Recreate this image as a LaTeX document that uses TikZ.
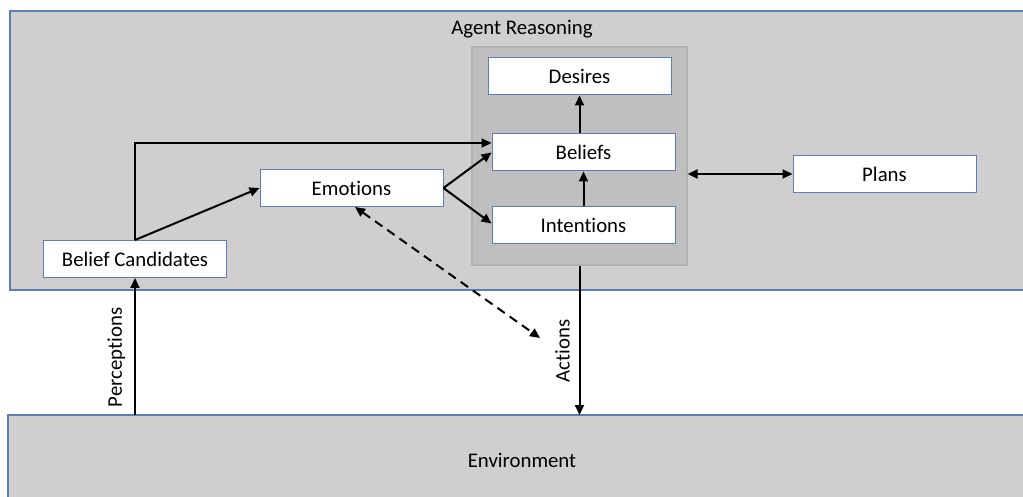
\documentclass[tikz,border=0pt]{standalone}
\usepackage{fontspec}
\setmainfont[Ligatures=NoCommon]{Carlito}
\usepackage{xcolor}
\usetikzlibrary{arrows.meta, calc, positioning}

\definecolor{panelgray}{HTML}{D0CECE}
\definecolor{bdigray}{HTML}{BFBFBF}
\definecolor{bdiline}{HTML}{B2B2B2}
\definecolor{edgeblue}{HTML}{5B7DB8}

\tikzset{
    comp/.style={draw=edgeblue, line width=0.5pt, fill=white, minimum width=91.5pt, minimum height=18.5pt, inner sep=0pt},
    flow/.style={-{Triangle[length=5pt, width=4.5pt]}, line width=1pt},
    bothflow/.style={{Triangle[length=5pt, width=4.5pt]}-{Triangle[length=5pt, width=4.5pt]}, line width=1pt}
}

\begin{document}
\begin{tikzpicture}[x=0.5pt, y=-0.5pt, font=\fontsize{10.4}{12}\selectfont]
                        \useasboundingbox (0, 0) rectangle (1023, 497);

                        % panels
                        \draw[fill=panelgray, draw=edgeblue, line width=0.6pt] (10, 11) rectangle (1040, 290);
                        \draw[fill=panelgray, draw=edgeblue, line width=0.6pt] (8, 415) rectangle (1040, 510);
                        \coordinate (envtop) at (0, 415);
                        \node (ar) at (522, 29) {Agent Reasoning};
                        \node (env) at (522, 460) {Environment};

                        \node[fill=bdigray, draw=bdiline, line width=0.6pt, minimum width=107.5pt, minimum height=109pt, inner sep=0pt] (bdi) at (579.5, 156) {};

                        \node[comp] (des) at (579.5, 76.5) {Desires};
                        \node[comp] (bel) at (583.5, 152.5) {Beliefs};
                        \node[comp] (int) at (583.5, 225.5) {Intentions};
                        \node[comp] (pl) at (884.5, 174) {Plans};
                        \node[comp] (emo) at (351.5, 188) {Emotions};
                        \node[comp] (bc) at (135, 259) {Belief Candidates};
                        \coordinate (dash) at (540, 338);

                        \draw[flow] (bc.north) |- ([yshift=4.75pt]bel.west);
                        \draw[flow] (bc.north) -- (emo.west);
                        \draw[flow] (emo.east) -- (bel.west);
                        \draw[flow] (emo.east) -- ([yshift=1pt]int.west);
                        \draw[flow] (int.north) -- (bel.south);
                        \draw[flow] (bel.north -| des.south) -- (des.south);
                        \draw[bothflow] (pl.west -| bdi.east) -- (pl.west);
                        \draw[bothflow, dash pattern=on 4.5pt off 3pt] ([xshift=1.75pt]emo.south) -- (dash);

                        \draw[flow] (bc.south |- envtop) -- (bc.south)
                            node[pos=0.42, left=1pt, rotate=90, anchor=south] {Perceptions};
                        \draw[flow] (bdi.south) -- (bdi.south |- envtop)
                            node[pos=0.57, left=1pt, rotate=90, anchor=south] {Actions};
                    \end{tikzpicture}
\end{document}
